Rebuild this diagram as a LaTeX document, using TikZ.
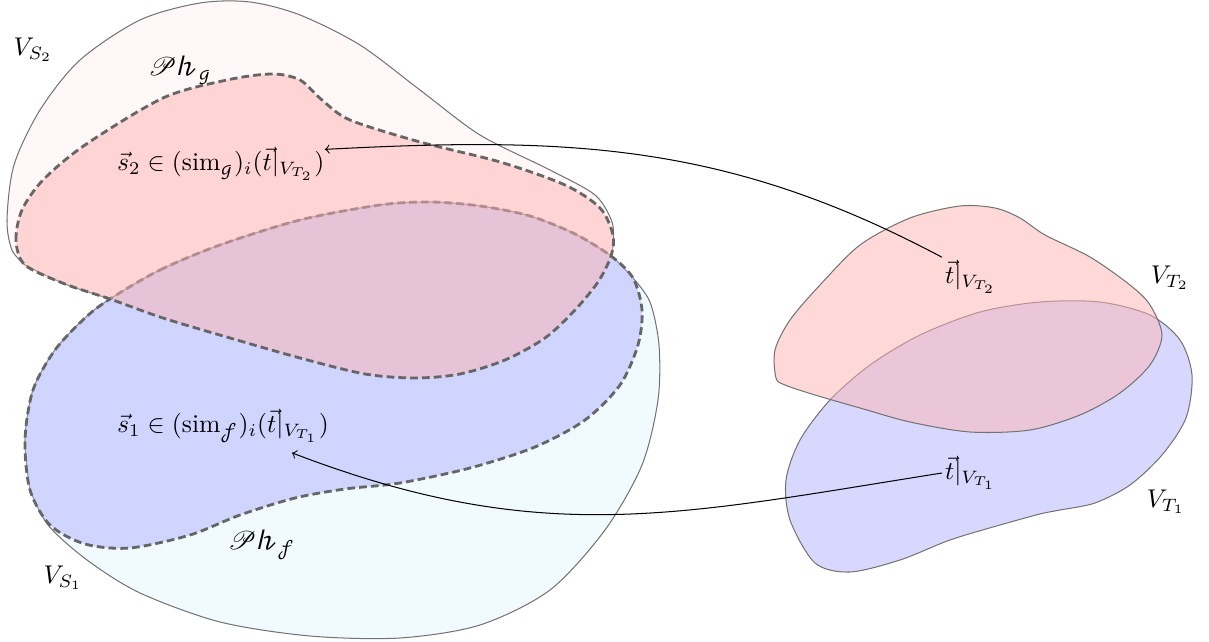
\documentclass[tikz,border=0pt]{standalone}
\usepackage{amsmath}
\usepackage{mathrsfs}
\usepackage{fontspec}
\newfontfamily\myscrfont{DejaVu Math TeX Gyre}
\newcommand\myscrh{\text{\myscrfont 𝒽}}
\newcommand\myscrg{\text{\myscrfont ℊ}}
\newcommand\myscrf{\text{\myscrfont 𝒻}}
\definecolor{vstwo}{RGB}{255,247,248}
\definecolor{vsone}{RGB}{240,250,255}
\tikzset{
  outline/.style={draw=black!55, line width=0.4pt},
  phline/.style={draw=black!60, line width=1.1pt, dash pattern=on 3pt off 1.6pt},
  pinkfill/.style={fill=red!30, fill opacity=0.5},
  bluefill/.style={fill=blue!30, fill opacity=0.5},
  lbl/.style={inner sep=1pt},
  conn/.style={->, black, line width=0.4pt}
}
\begin{document}
\begin{tikzpicture}[x=0.39pt,y=-0.39pt]
\useasboundingbox (0,0) rectangle (1209,642);
% V_S2
\path[outline, fill=vstwo] plot[smooth] coordinates {(25,265) (12,250) (7,220) (14,165) (40,110) (80,60) (140,20) (200,3) (250,2) (300,15) (360,45) (420,90) (480,135) (550,170) (595,195) (612,222) (613,245) (611,256)} -- plot[smooth] coordinates {(611,256) (598,282) (575,310) (545,338) (505,360) (460,374) (415,378) (365,374) (300,358) (230,338) (163,318) (110,299) (65,284) (25,265)} -- cycle;
% V_S1
\path[outline, fill=vsone] plot[smooth] coordinates {(30,490) (48,525) (87,560) (140,593) (220,622) (310,636) (400,638) (480,625) (550,590) (605,530) (642,465) (658,400) (659,345) (650,302) (633,278)} -- plot[smooth] coordinates {(633,278) (611,256) (575,234) (530,216) (480,206) (430,202) (380,205) (300,220) (220,245) (160,270) (110,299) (85,318) (55,350) (33,390) (25,440) (30,490)} -- cycle;
% Ph_f
\path[phline, bluefill] plot[smooth cycle] coordinates {(110,299) (160,270) (220,245) (300,220) (380,205) (430,202) (480,206) (530,216) (575,234) (611,256) (633,278) (642,310) (638,345) (620,385) (585,420) (535,447) (470,468) (400,483) (345,489) (295,498) (240,515) (190,535) (130,548) (85,544) (50,525) (30,490) (25,440) (33,390) (55,350) (85,318)};
% Ph_g
\path[phline, pinkfill] plot[smooth cycle] coordinates {(25,265) (16,240) (22,210) (43,180) (85,145) (163,98) (227,80) (272,74) (300,80) (322,100) (350,120) (420,142) (500,162) (565,185) (600,208) (613,235) (611,256) (598,282) (575,310) (545,338) (505,360) (460,374) (415,378) (365,374) (300,358) (230,338) (163,318) (110,299) (65,284)};
% V_T1
\path[outline, bluefill] plot[smooth cycle] coordinates {(790,520) (786,480) (800,440) (830,400) (870,365) (920,335) (980,312) (1040,302) (1100,302) (1150,315) (1180,340) (1192,375) (1186,418) (1162,455) (1130,485) (1095,503) (1060,510) (1040,514) (1000,525) (950,540) (900,560) (850,572) (815,563)};
% V_T2
\path[outline, pinkfill] plot[smooth cycle] coordinates {(776,378) (775,350) (790,320) (820,285) (860,245) (910,218) (960,206) (995,208) (1020,218) (1045,235) (1090,257) (1130,285) (1150,305) (1162,335) (1150,365) (1120,393) (1080,415) (1030,430) (970,432) (910,422) (860,408) (815,395) (785,385)};
% labels
\node[lbl] (vs2) at (33,50) {$V_{S_2}$};
\node[lbl] (phg) at (180,70) {$\mathscr{P}\myscrh_{\myscrg}$};
\node[lbl, anchor=west] (s2) at (114,164) {$\vec{s}_2 \in (\mathrm{sim}_{\myscrg})_i(\vec{t}|_{V_{T_2}})$};
\node[lbl, anchor=west] (s1) at (114,426) {$\vec{s}_1 \in (\mathrm{sim}_{\myscrf})_i(\vec{t}|_{V_{T_1}})$};
\node[lbl] (phf) at (262,545) {$\mathscr{P}\myscrh_{\myscrf}$};
\node[lbl] (vs1) at (63,578) {$V_{S_1}$};
\node[lbl, anchor=west] (t2) at (942,277) {$\vec{t}|_{V_{T_2}}$};
\node[lbl, anchor=west] (t1) at (942,473) {$\vec{t}|_{V_{T_1}}$};
\node[lbl] (vt2) at (1170,278) {$V_{T_2}$};
\node[lbl] (vt1) at (1166,502) {$V_{T_1}$};
% connectors
\draw[conn] (t2.north west) to[out=152, in=3] ([shift={(-1pt,-2pt)}]s2.north east);
\draw[conn] (t1.west) to[out=189, in=-21, looseness=1.05] ([shift={(-15.6pt,-2.7pt)}]s1.south east);
\end{tikzpicture}
\end{document}
